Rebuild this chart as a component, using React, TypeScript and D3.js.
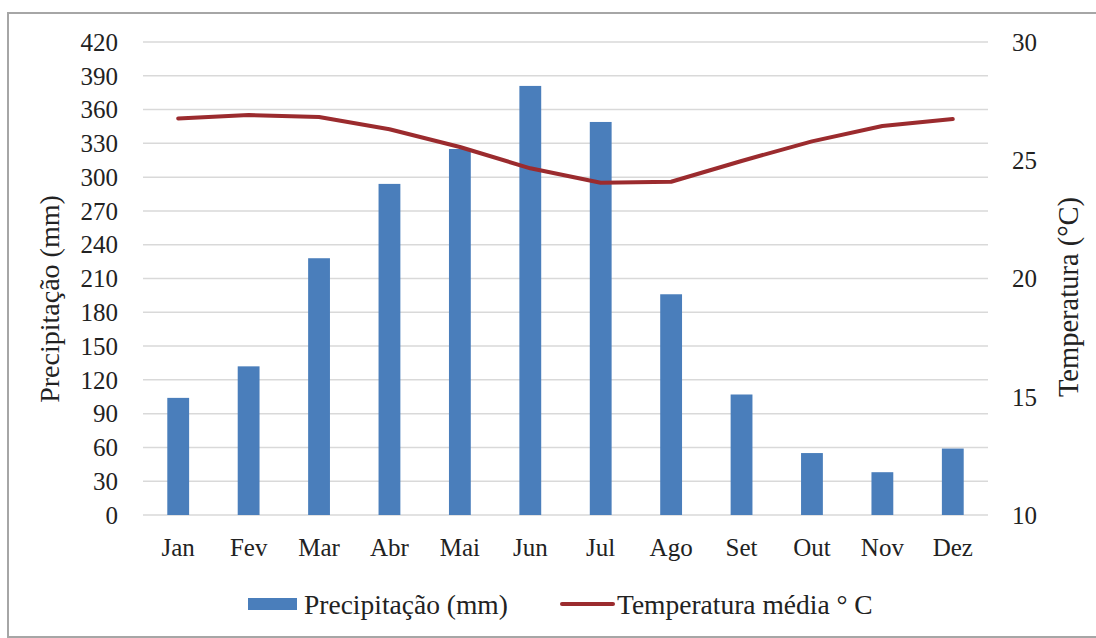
import React from "react";
import * as d3 from "d3";

const months = ["Jan", "Fev", "Mar", "Abr", "Mai", "Jun", "Jul", "Ago", "Set", "Out", "Nov", "Dez"];
const precipitation = [104, 132, 228, 294, 325, 381, 349, 196, 107, 55, 38, 59];
const temperature = [26.77, 26.91, 26.83, 26.31, 25.56, 24.66, 24.05, 24.09, 24.97, 25.8, 26.45, 26.74];
const leftTicks = [0, 30, 60, 90, 120, 150, 180, 210, 240, 270, 300, 330, 360, 390, 420];
const rightTicks = [10, 15, 20, 25, 30];

const W = 1096;
const H = 638;
const M = { left: 143, right: 988, top: 42, bottom: 515 };
const FONT = "Liberation Serif, Times New Roman, Tinos, DejaVu Serif, serif";
const txt: React.CSSProperties = { fontFamily: FONT };

export default function App() {
  const x = d3.scaleBand<string>().domain(months).range([M.left, M.right]).paddingInner(0.69).paddingOuter(0.345);
  const yL = d3.scaleLinear().domain([0, 420]).range([M.bottom, M.top]);
  const yR = d3.scaleLinear().domain([10, 30]).range([M.bottom, M.top]);
  const cx = (m: string) => (x(m) as number) + x.bandwidth() / 2;
  const line = d3
    .line<number>()
    .x((_, i) => cx(months[i]))
    .y((d) => yR(d));

  return (
    <div style={{ position: "absolute", left: 0, top: 0 }}>
      <svg width={W} height={H} style={{ display: "block", background: "#fff" }}>
        <rect x={8} y={13} width={W} height={624} fill="#fff" stroke="#a6a6a6" strokeWidth={2} />
        {leftTicks.map((t) => (
          <g key={t}>
            <line x1={M.left} x2={M.right} y1={yL(t)} y2={yL(t)} stroke="#d9d9d9" strokeWidth={1.5} />
            <text x={118} y={yL(t)} dy="0.35em" textAnchor="end" style={txt} fontSize={25} fill="#222">
              {t}
            </text>
          </g>
        ))}
        {rightTicks.map((t) => (
          <text key={t} x={1012} y={yR(t)} dy="0.35em" textAnchor="start" style={txt} fontSize={25} fill="#222">
            {t}
          </text>
        ))}
        {precipitation.map((v, i) => (
          <rect
            key={months[i]}
            x={x(months[i])}
            y={yL(v)}
            width={x.bandwidth()}
            height={yL(0) - yL(v)}
            fill="#4a7ebb"
          />
        ))}
        <path d={line(temperature) || ""} fill="none" stroke="#9b2b2e" strokeWidth={4} strokeLinejoin="round" strokeLinecap="round" />
        {months.map((m) => (
          <text key={m} x={cx(m)} y={556} textAnchor="middle" style={txt} fontSize={25} fill="#222">
            {m}
          </text>
        ))}
        <text transform={`translate(59,299) rotate(-90)`} textAnchor="middle" style={txt} fontSize={28} fill="#222">
          Precipitação (mm)
        </text>
        <text transform={`translate(1078,297) rotate(-90)`} textAnchor="middle" style={txt} fontSize={28.5} fill="#222">
          Temperatura (°C)
        </text>
        <rect x={248} y={598} width={49} height={12} fill="#4a7ebb" />
        <text x={304} y={614} style={txt} fontSize={27.5} fill="#222">
          Precipitação (mm)
        </text>
        <line x1={562} x2={613} y1={604} y2={604} stroke="#9b2b2e" strokeWidth={4} strokeLinecap="round" />
        <text x={617} y={614} style={txt} fontSize={27.5} fill="#222">
          Temperatura média ° C
        </text>
      </svg>
    </div>
  );
}
